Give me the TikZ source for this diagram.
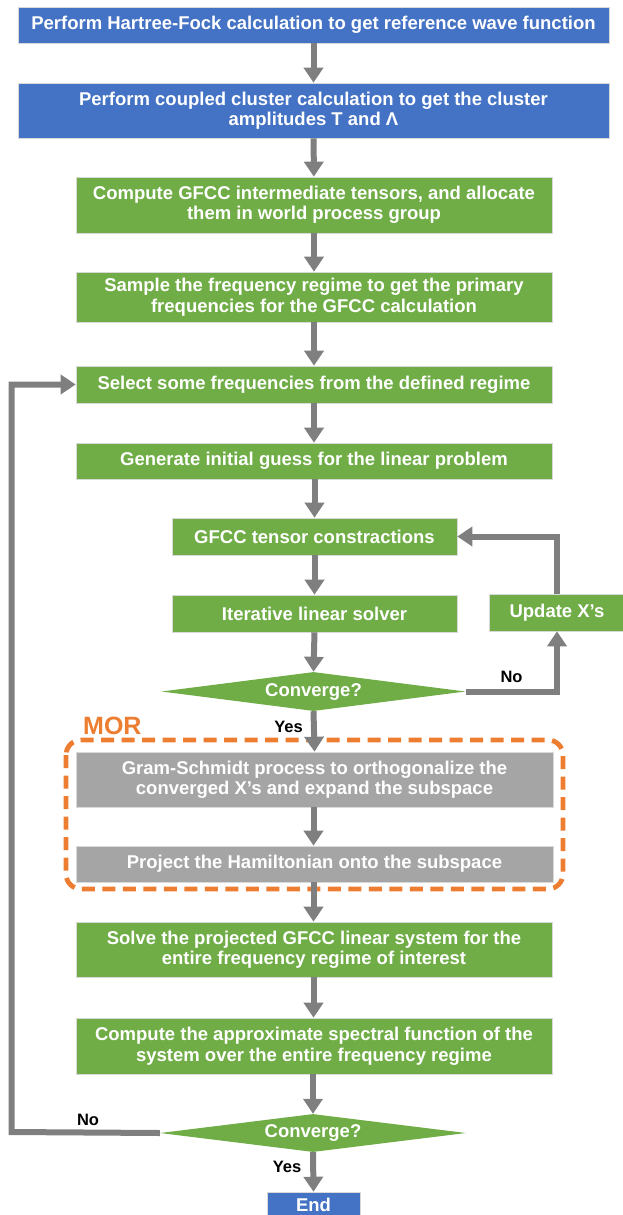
\documentclass[tikz,border=0pt]{standalone}
\usepackage{fontspec}
\setmainfont{Liberation Sans}
\usetikzlibrary{arrows.meta,shapes.geometric}
\definecolor{cblue}{HTML}{4472C4}
\definecolor{cgreen}{HTML}{70AD47}
\definecolor{cgray}{HTML}{A5A5A5}
\definecolor{carrow}{HTML}{7F7F7F}
\definecolor{corange}{HTML}{ED7D31}
\begin{document}
\begin{tikzpicture}[x=1pt,y=-1pt,
  box/.style={rectangle,inner sep=0pt,text=white,align=center,
    font=\fontsize{18.5}{20.5}\selectfont\bfseries,draw=white!85!black,line width=0.6pt},
  bluebox/.style={box,fill=cblue},
  greenbox/.style={box,fill=cgreen},
  graybox/.style={box,fill=cgray},
  decide/.style={diamond,aspect=8,inner sep=0pt,fill=cgreen,text=white,
    font=\fontsize{18.5}{20.5}\selectfont\bfseries,minimum width=304pt,minimum height=39pt},
  arr/.style={draw=carrow,line width=6pt,line join=miter,-{Triangle[width=19pt,length=15pt]}},
  lbl/.style={font=\fontsize{16.5}{20}\selectfont\bfseries,text=black,inner sep=0pt}
]
\useasboundingbox (0,0) rectangle (623,1215);
\node[bluebox,minimum width=591pt,minimum height=36pt] (b1) at (313.5,25) {Perform Hartree-Fock calculation to get reference wave function};
\node[bluebox,minimum width=591pt,minimum height=55pt] (b2) at (313.5,110.5) {Perform coupled cluster calculation to get the cluster\\amplitudes T and Λ};
\node[greenbox,minimum width=476pt,minimum height=56pt] (b3) at (314,205) {Compute GFCC intermediate tensors, and allocate\\them in world process group};
\node[greenbox,minimum width=476pt,minimum height=50pt] (b4) at (314,297) {Sample the frequency regime to get the primary\\frequencies for the GFCC calculation};
\node[greenbox,minimum width=476pt,minimum height=37pt] (b5) at (314,384.5) {Select some frequencies from the defined regime};
\node[greenbox,minimum width=476pt,minimum height=36pt] (b6) at (314,461) {Generate initial guess for the linear problem};
\node[greenbox,minimum width=285pt,minimum height=37pt] (b7) at (314.5,536.5) {GFCC tensor constractions};
\node[greenbox,minimum width=285pt,minimum height=37pt] (b8) at (314.5,613.5) {Iterative linear solver};
\node[greenbox,minimum width=136pt,minimum height=37pt] (upd) at (557,612.5) {Update X’s};
\node[decide] (d1) at (313.5,691.5) {Converge?};
\draw[corange,line width=4.8pt,dash pattern=on 13pt off 7.5pt,rounded corners=15pt] (66,740) rectangle (563,889);
\node[font=\fontsize{25}{28}\selectfont\bfseries,text=corange,inner sep=0pt,anchor=south west] (mor) at (83,735) {MOR};
\node[graybox,minimum width=477pt,minimum height=55pt] (g1) at (314.5,779.5) {Gram-Schmidt process to orthogonalize the\\converged X’s and expand the subspace};
\node[graybox,minimum width=477pt,minimum height=36pt] (g2) at (314.5,864) {Project the Hamiltonian onto the subspace};
\node[greenbox,minimum width=476pt,minimum height=55pt] (b14) at (314,949.5) {Solve the projected GFCC linear system for the\\entire frequency regime of interest};
\node[greenbox,minimum width=476pt,minimum height=56pt] (b15) at (314,1046) {Compute the approximate spectral function of the\\system over the entire frequency regime};
\node[decide,minimum width=306pt,minimum height=38pt] (d2) at (313,1133) {Converge?};
\node[bluebox,minimum width=93pt,minimum height=26pt] (end) at (313.5,1205) {End};
\coordinate (lp) at (11.5,1132);
\draw[arr] (b1) -- (b2);
\draw[arr] (b2) -- (b3);
\draw[arr] (b3) -- (b4);
\draw[arr] (b4) -- (b5);
\draw[arr] (b5) -- (b6);
\draw[arr] (b6.south -| b7.north) -- (b7.north);
\draw[arr] (b7) -- (b8);
\draw[arr] (b8.south) -- (d1.north);
\draw[arr] (d1.south) -- (g1.north);
\draw[arr] (g1.south -| d1.south) -- (g2.north -| d1.south);
\draw[arr] (g2.south -| d1.south) -- (b14.north -| d1.south);
\draw[arr] (b14.south -| d1.south) -- (b15.north -| d1.south);
\draw[arr] (b15.south -| d2.north) -- (d2.north);
\draw[arr] (d2.south) -- (end.north);
\draw[arr] (d1.east) -| (upd.south);
\draw[arr] (upd.north) |- (b7.east);
\draw[arr,line join=miter] (d2.west) -- (lp) |- (b5.west);
\node[lbl] (no1) at (511.5,677) {No};
\node[lbl] (yes1) at (288.5,726.5) {Yes};
\node[lbl] (no2) at (88,1120) {No};
\node[lbl] (yes2) at (287,1166.5) {Yes};
\end{tikzpicture}
\end{document}
